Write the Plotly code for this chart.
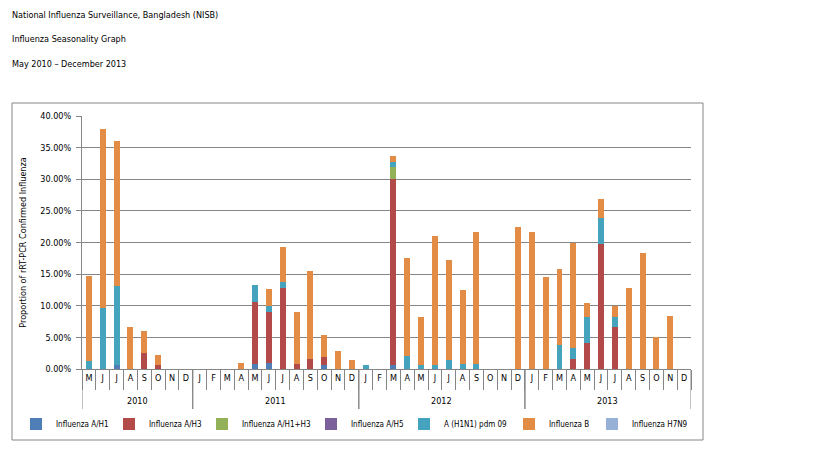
import plotly.graph_objects as go

# May 2010 - December 2013, monthly proportion (%) of rRT-PCR confirmed influenza
years = ["2010", "2011", "2012", "2013"]
months_per_year = [8, 12, 12, 12]
months = (["M", "J", "J", "A", "S", "O", "N", "D"]
          + ["J", "F", "M", "A", "M", "J", "J", "A", "S", "O", "N", "D"] * 3)

h1 = [0, 0, 0.6, 0, 0, 0, 0, 0,
      0, 0, 0, 0, 0.8, 0.9, 0, 0, 0, 0.6, 0, 0,
      0, 0, 0.6, 0, 0, 0, 0, 0, 0, 0, 0, 0,
      0, 0, 0, 0, 0, 0, 0, 0, 0, 0, 0, 0]
h3 = [0, 0, 0, 0, 2.5, 0.6, 0, 0,
      0, 0, 0, 0, 9.8, 8.1, 12.8, 0.8, 1.6, 1.3, 0, 0,
      0, 0, 29.4, 0, 0, 0, 0, 0, 0, 0, 0, 0,
      0, 0, 0, 1.6, 4.05, 19.8, 6.6, 0, 0, 0, 0, 0]
h1h3 = [0, 0, 0, 0, 0, 0, 0, 0,
        0, 0, 0, 0, 0, 0, 0, 0, 0, 0, 0, 0,
        0, 0, 2.0, 0, 0, 0, 0, 0, 0, 0, 0, 0,
        0, 0, 0, 0, 0, 0, 0, 0, 0, 0, 0, 0]
h5 = [0] * 44
pdm09 = [1.3, 9.7, 12.5, 0, 0, 0, 0, 0,
         0, 0, 0, 0, 2.65, 0.9, 0.9, 0, 0, 0, 0, 0,
         0.7, 0, 0.8, 2.1, 0.7, 0.7, 1.5, 0.8, 0.8, 0, 0, 0,
         0, 0, 3.85, 1.7, 4.25, 4.1, 1.6, 0, 0, 0, 0, 0]
flu_b = [13.4, 28.2, 23.0, 6.6, 3.5, 1.6, 0, 0,
         0, 0, 0, 0.9, 0, 2.8, 5.6, 8.2, 13.85, 3.5, 2.8, 1.4,
         0, 0, 0.8, 15.4, 7.55, 20.3, 15.8, 11.7, 20.85, 0, 0, 22.4,
         21.7, 14.5, 11.9, 16.7, 2.1, 2.9, 1.8, 12.85, 18.3, 5.05, 8.4, 0]
h7n9 = [0] * 44

# name, values, colour, legend text width (px)
series = [
    ("Influenza A/H1", h1, "#4F7DB5", 48),
    ("Influenza A/H3", h3, "#B14A48", 48),
    ("Influenza A/H1+H3", h1h3, "#93B158", 64),
    ("Influenza A/H5", h5, "#7A619C", 48),
    ("A (H1N1) pdm 09", pdm09, "#46A3BD", 60),
    ("Influenza B", flu_b, "#E38C45", 38),
    ("Influenza H7N9", h7n9, "#97B1D6", 50),
]

FONT = "Liberation Sans Narrow, DejaVu Sans Condensed, Liberation Sans, Arial, sans-serif"
OFF = 8  # page body margin
W, H = 819 - OFF, 460 - OFF
L, R, T, B = 82 - OFF, 691 - OFF, 116 - OFF, 369 - OFF  # plot area in pixels


def px(x):
    return (x - OFF - L) / (R - L)


def py(y):
    return (B - (y - OFF)) / (B - T)


n = len(months)
xs = list(range(n))

fig = go.Figure()
for name, vals, color, lw in series:
    fig.add_trace(go.Bar(
        x=xs,
        y=vals,
        name=name,
        legendwidth=lw,
        marker=dict(color=color, line=dict(width=0)),
    ))

titles = ["National Influenza Surveillance, Bangladesh (NISB)",
          "Influenza Seasonality Graph",
          "May 2010 \u2013 December 2013"]
annotations = []
for i, t in enumerate(titles):
    annotations.append(dict(
        text=t, xref="paper", yref="paper", x=px(10), y=py(8 + i * 24.5),
        xanchor="left", yanchor="top", showarrow=False,
        font=dict(size=9, color="#000000", family=FONT)))

# chart-area border, year labels and year dividers under the month row
shapes = [dict(type="rect", xref="paper", yref="paper", layer="below",
               x0=px(12), x1=px(703), y0=py(440), y1=py(103),
               line=dict(color="#868686", width=1))]
start = 0
for yr, cnt in zip(years, months_per_year):
    annotations.append(dict(
        text=yr, xref="x", yref="paper", x=start + (cnt - 1) / 2, y=py(401),
        xanchor="center", yanchor="middle", showarrow=False,
        font=dict(size=9, color="#000000", family=FONT)))
    for edge in (start - 0.5, start + cnt - 0.5):
        shapes.append(dict(type="line", xref="x", yref="paper",
                           x0=edge, x1=edge, y0=0, y1=py(409),
                           line=dict(color="#868686", width=1)))
    start += cnt

fig.update_layout(
    width=W, height=H,
    margin=dict(l=L, r=W - R, t=T, b=H - B, autoexpand=False),
    paper_bgcolor="white", plot_bgcolor="white",
    barmode="stack", bargap=0.57,
    font=dict(family=FONT, size=9, color="#000000"),
    showlegend=True,
    legend=dict(orientation="h", traceorder="normal",
                x=px(16), xanchor="left", y=py(424), yanchor="middle",
                font=dict(size=8, family=FONT), itemwidth=30,
                tracegroupgap=0),
    annotations=annotations,
    shapes=shapes,
)

fig.update_yaxes(
    range=[0, 40], dtick=5, tickformat=".2f", ticksuffix="%",
    showgrid=True, gridcolor="#868686", gridwidth=1,
    showline=True, linecolor="#868686", ticks="outside", ticklen=5,
    tickcolor="#868686", zeroline=False, ticklabelstandoff=3,
    title=dict(text="Proportion of rRT-PCR Confirmed Influenza",
               font=dict(size=9), standoff=12),
    tickfont=dict(size=9),
)
fig.update_xaxes(
    range=[-0.5, n - 0.5], showgrid=False, zeroline=False,
    showline=True, linecolor="#868686",
    tickmode="array", tickvals=xs, ticktext=months, ticks="",
    minor=dict(tickmode="array", tickvals=[i - 0.5 for i in range(n + 1)],
               ticks="outside", ticklen=20, tickcolor="#868686", showgrid=False),
    tickfont=dict(size=9),
)

fig.write_html("out.html")
